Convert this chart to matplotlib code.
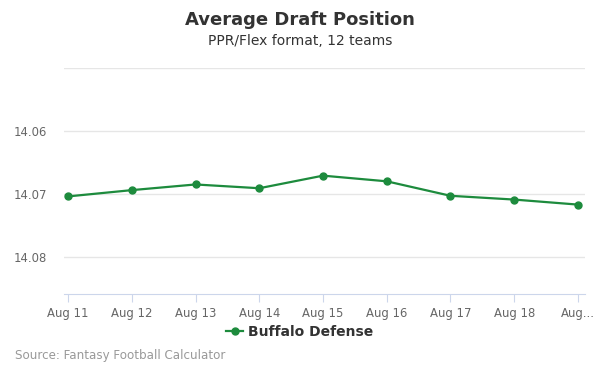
import matplotlib
matplotlib.use("Agg")
from matplotlib import pyplot as plt
from matplotlib.lines import Line2D

# data
dates = ["Aug 11", "Aug 12", "Aug 13", "Aug 14", "Aug 15", "Aug 16", "Aug 17", "Aug 18", "Aug..."]
adp = [14.0704, 14.0694, 14.0685, 14.0691, 14.0671, 14.0680, 14.0703, 14.0709, 14.0717]
grid_vals = [14.05, 14.06, 14.07, 14.08]
label_vals = [14.06, 14.07, 14.08]

green = "#1d8b3d"

fig = plt.figure(figsize=(6, 3.75), dpi=100)
ax = fig.add_axes([64 / 600, 1 - 294 / 375, (585 - 64) / 600, (294 - 68) / 375])

x = list(range(len(dates)))
ax.plot(x, adp, color=green, linewidth=1.6, marker="o", markersize=5, zorder=3)

ax.set_xlim(-0.063, len(dates) - 1 + 0.11)
ax.set_ylim(14.0859, 14.05)  # reversed: lower ADP is better

for v in grid_vals:
    ax.axhline(v, color="#e6e6e6", linewidth=1, zorder=1)
ax.set_yticks(label_vals)
ax.set_yticklabels(["{:.2f}".format(v) for v in label_vals])
ax.set_xticks(x)
ax.set_xticklabels(dates)

for side in ["top", "right", "left"]:
    ax.spines[side].set_visible(False)
ax.spines["bottom"].set_color("#ccd6eb")
ax.tick_params(axis="y", length=0, pad=12, labelsize=8.4, labelcolor="#666666")
ax.tick_params(axis="x", length=6, color="#ccd6eb", pad=3, labelsize=8.4, labelcolor="#666666")

fig.text(0.5, 1 - 20 / 375, "Average Draft Position", ha="center", va="center",
         fontsize=13, fontweight="bold", color="#333333")
fig.text(0.5, 1 - 41 / 375, "PPR/Flex format, 12 teams", ha="center", va="center",
         fontsize=10, color="#333333")

handle = Line2D([0], [0], color=green, linewidth=1.6, marker="o", markersize=5)
fig.legend([handle], ["Buffalo Defense"], loc="center", bbox_to_anchor=(0.5, 1 - 332 / 375),
           frameon=False, handlelength=1.2, handletextpad=0.4,
           prop={"weight": "bold", "size": 10}, labelcolor="#333333")

fig.text(15 / 600, 1 - 356 / 375, "Source: Fantasy Football Calculator", ha="left", va="center",
         fontsize=8.6, color="#999999")

fig.savefig("out.png", dpi=100)
